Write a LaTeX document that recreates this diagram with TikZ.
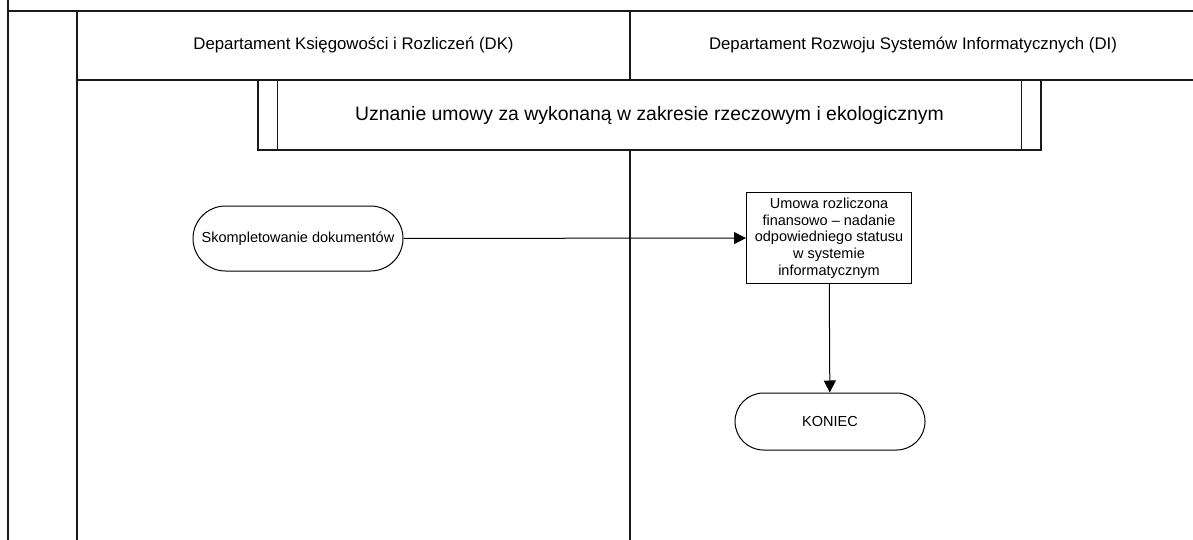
\documentclass[tikz,border=0pt]{standalone}
\usepackage{fontspec}
\setmainfont{Liberation Sans}
\usetikzlibrary{arrows.meta,calc,positioning,shapes.misc}
\definecolor{laneInk}{HTML}{1A1A1A}
\definecolor{flowInk}{HTML}{000000}

\begin{document}
\begin{tikzpicture}[x=1pt, y=-1pt,
  every node/.style ={font=\fontsize{14.5}{16.7}\selectfont, text=flowInk},
  lane/.style       ={line width=1.1pt, laneInk},
  hdr/.style        ={font=\fontsize{16.8}{20}\selectfont},
  sub/.style        ={draw=laneInk, line width=1.1pt, fill=white, minimum width=783pt, minimum height=70pt, inner sep=0pt, font=\fontsize{19.4}{23}\selectfont},
  term/.style       ={draw=flowInk, line width=1pt, fill=white, rounded rectangle, inner sep=0pt},
  proc/.style       ={draw=flowInk, line width=1pt, fill=white, minimum width=165pt, minimum height=90pt, align=center, inner sep=0pt},
  flow/.style       ={-{Triangle[length=12pt, width=12pt]}, line width=1pt, flowInk},
]
\useasboundingbox (0,0) rectangle (1193,540);

% swimlane frame
\draw[lane] (8,0) -- (8,540);
\draw[lane] (8,11) -- (1193,11);
\draw[lane] (77,11) -- (77,540);
\draw[lane] (77,80) -- (1193,80);
\draw[lane] (630,11) -- (630,540);

\node[hdr] (dk) at (353.5,45) {Departament Księgowości i Rozliczeń (DK)};
\node[hdr] (di) at (913,45) {Departament Rozwoju Systemów Informatycznych (DI)};

% predefined process
\node[sub] (uzn) at (649.5,115) {Uznanie umowy za wykonaną w zakresie rzeczowym i ekologicznym};
\draw[lane] ($(uzn.north west)+(20,0)$) -- ($(uzn.south west)+(20,0)$);
\draw[lane] ($(uzn.north east)+(-20,0)$) -- ($(uzn.south east)+(-20,0)$);

% flow
\node[term, minimum width=210pt, minimum height=65pt] (start) at (298,238.5) {Skompletowanie dokumentów};
\node[proc] (rozl) at (829,238) {Umowa rozliczona\\finansowo -- nadanie\\odpowiedniego statusu\\w systemie\\informatycznym};
\node[term, minimum width=190pt, minimum height=57pt] (koniec) at (830,421.5) {KONIEC};

\draw[flow] (start) -- (rozl);
\draw[flow] (rozl) -- (koniec);

\end{tikzpicture}
\end{document}
